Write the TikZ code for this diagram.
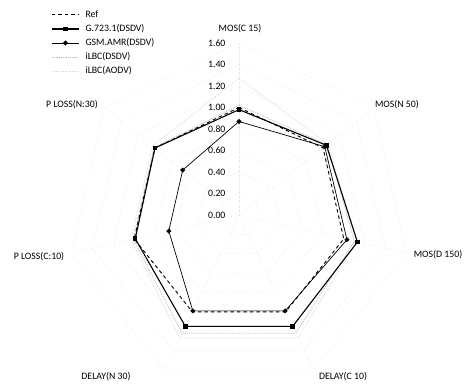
\documentclass[tikz,border=0pt]{standalone}
\usepackage{fontspec}
\setmainfont{Carlito}
\usetikzlibrary{calc}
\tikzset{
  gridline/.style={black!14,dotted,line width=0.5pt},
  refline/.style={black,line width=0.9pt,dash pattern=on 3.5pt off 3pt},
  gline/.style={black,line width=1.1pt},
  gsmline/.style={black,line width=0.7pt},
  ilbcd/.style={black!28,densely dotted,line width=0.8pt},
  ilbca/.style={black!14,densely dotted,line width=0.8pt},
  sqmark/.style={fill=black,inner sep=0pt,minimum size=4.5pt},
  dmmark/.style={fill=black,inner sep=0pt,minimum size=3.6pt,rotate=45},
  axislabel/.style={font=\fontsize{9.8}{11}\selectfont},
  ticklabel/.style={font=\fontsize{9.8}{11}\selectfont,anchor=east},
  legtext/.style={font=\fontsize{9.8}{11}\selectfont,anchor=west}
}
\begin{document}
\begin{tikzpicture}[x=1pt,y=1pt]
\useasboundingbox (-239,-168) rectangle (227,215);
\def\R{107.5}
% grid and spokes
\foreach \r in {0.2,0.4,0.6,0.8,1.0,1.2,1.4,1.6}
  \draw[gridline] (90:\r*\R) \foreach \i in {1,...,6}{ -- (90-\i*360/7:\r*\R)} -- cycle;
\foreach \i in {0,...,6}
  \draw[gridline] (0,0) -- (90-\i*360/7:1.6*\R);
% tick labels
\foreach \t in {0.00,0.20,0.40,0.60,0.80,1.00,1.20,1.40,1.60}
  \node[ticklabel] (t\t) at (-10,\t*\R) {\t};
% axis labels
\node[axislabel] (mosc) at (1,186) {MOS(C 15)};
\node[axislabel] (mosn) at (158,110) {MOS(N 50)};
\node[axislabel] (mosd) at (199,-40) {MOS(D 150)};
\node[axislabel] (delc) at (104,-162) {DELAY(C 10)};
\node[axislabel] (deln) at (-133,-162) {DELAY(N 30)};
\node[axislabel] (plc) at (-200,-42) {P LOSS(C:10)};
\node[axislabel] (pln) at (-167,110) {P LOSS(N:30)};
% series
\foreach \v [count=\i from 0] in {1.27,1.06,1.12,1.27,1.27,1.03,1.03}
  \coordinate (a\i) at (90-\i*360/7:\v*\R);
\draw[ilbca] (a0) -- (a1) -- (a2) -- (a3) -- (a4) -- (a5) -- (a6) -- cycle;
\foreach \v [count=\i from 0] in {1.02,1.05,1.10,1.22,1.22,1.01,1.01}
  \coordinate (d\i) at (90-\i*360/7:\v*\R);
\draw[ilbcd] (d0) -- (d1) -- (d2) -- (d3) -- (d4) -- (d5) -- (d6) -- cycle;
\foreach \i in {0,...,6}
  \coordinate (r\i) at (90-\i*360/7:\R);
\draw[refline] (r0) -- (r1) -- (r2) -- (r3) -- (r4) -- (r5) -- (r6) -- cycle;
\foreach \v [count=\i from 0] in {0.98,1.04,1.13,1.15,1.15,0.99,1.00}
  \coordinate (g\i) at (90-\i*360/7:\v*\R);
\draw[gline] (g0) -- (g1) -- (g2) -- (g3) -- (g4) -- (g5) -- (g6) -- cycle;
\foreach \v [count=\i from 0] in {0.87,1.02,1.03,0.99,0.99,0.67,0.67}
  \coordinate (s\i) at (90-\i*360/7:\v*\R);
\draw[gsmline] (s0) -- (s1) -- (s2) -- (s3) -- (s4) -- (s5) -- (s6) -- cycle;
\foreach \i in {0,...,6}{
  \node[sqmark] (gm\i) at (g\i) {};
  \node[dmmark] (sm\i) at (s\i) {};
}
% legend
\coordinate (l1a) at (-187,201); \coordinate (l1b) at (-160,201);
\coordinate (l2a) at (-187,186); \coordinate (l2b) at (-160,186);
\coordinate (l3a) at (-187,172); \coordinate (l3b) at (-160,172);
\coordinate (l4a) at (-187,158); \coordinate (l4b) at (-160,158);
\coordinate (l5a) at (-187,144); \coordinate (l5b) at (-160,144);
\draw[refline] (l1a) -- (l1b);
\draw[gline] (l2a) -- (l2b);
\node[sqmark] (lg) at ($(l2a)!0.5!(l2b)$) {};
\draw[gsmline] (l3a) -- (l3b);
\node[dmmark] (ls) at ($(l3a)!0.5!(l3b)$) {};
\draw[ilbcd] (l4a) -- (l4b);
\draw[ilbca] (l5a) -- (l5b);
\node[legtext] (ref) at (-157,201) {Ref};
\node[legtext] (g723) at (-157,186) {G.723.1(DSDV)};
\node[legtext] (gsm) at (-157,172) {GSM.AMR(DSDV)};
\node[legtext] (ilbcds) at (-157,158) {iLBC(DSDV)};
\node[legtext] (ilbcao) at (-157,144) {iLBC(AODV)};
\end{tikzpicture}
\end{document}
